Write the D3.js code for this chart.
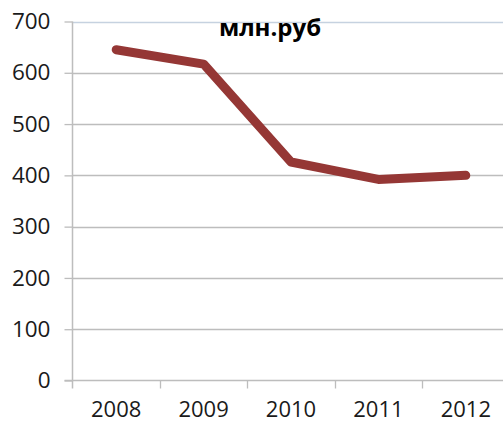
<!DOCTYPE html>
<html><head><meta charset="utf-8">
<script src="https://cdn.jsdelivr.net/npm/d3@7"></script>
<style>body{margin:0;background:#fff}svg{display:block}</style>
</head><body>
<script>
const categories = ["2008","2009","2010","2011","2012"];
const values = [645, 617, 426, 392, 400];
const yTicks = [0,100,200,300,400,500,600,700];
const title = "млн.руб";

const W = 503, H = 425;
const svg = d3.select("body").append("svg").attr("width", W).attr("height", H);
const mLeft = 72.5, mRight = 509.5, mTop = 21.5, mBottom = 380.5;
const x = d3.scaleBand().domain(categories).range([mLeft, mRight]);
const y = d3.scaleLinear().domain([0,700]).range([mBottom, mTop]);
const font = "'Open Sans', sans-serif";

// gridlines
svg.append("g").selectAll("line").data(yTicks.filter(d=>d>0)).join("line")
  .attr("x1", mLeft).attr("x2", W).attr("y1", d=>Math.round(y(d))+0.5).attr("y2", d=>Math.round(y(d))+0.5)
  .attr("stroke", d=> d===700 ? "#c6d2e0" : "#bdbdbd").attr("stroke-width", d=> d===700?1.5:1.3);

// y axis
const ya = svg.append("g").attr("transform", `translate(${mLeft},0)`)
  .call(d3.axisLeft(y).tickValues(yTicks).tickSize(8).tickPadding(14).tickSizeOuter(0));
ya.select(".domain").attr("stroke", "#bdbdbd").attr("stroke-width", 1.5).attr("d", `M0,${mTop}V${mBottom+8}`);
ya.selectAll(".tick line").attr("stroke", "#bdbdbd").attr("stroke-width", 1.3);
ya.selectAll("text").attr("font-family", font).attr("font-size", 22.5).attr("fill", "#1a1a1a");

// x axis
const xa = svg.append("g").attr("transform", `translate(0,${mBottom})`)
  .call(d3.axisBottom(x).tickSize(0).tickPadding(21));
xa.select(".domain").attr("stroke", "#bdbdbd").attr("stroke-width", 1.5).attr("d", `M${mLeft-8},0H${W}`);
xa.selectAll("text").attr("font-family", font).attr("font-size", 22).attr("fill", "#1a1a1a");
// category boundary ticks
svg.append("g").selectAll("line").data(categories.slice(1)).join("line")
  .attr("x1", d=>Math.round(x(d))+0.5).attr("x2", d=>Math.round(x(d))+0.5)
  .attr("y1", mBottom).attr("y2", mBottom+8).attr("stroke", "#bdbdbd").attr("stroke-width", 1.3);

// line
const line = d3.line().x((d,i)=>x(categories[i]) + x.bandwidth()/2).y(d=>y(d));
svg.append("path").datum(values).attr("d", line)
  .attr("fill", "none").attr("stroke", "#953735").attr("stroke-width", 9)
  .attr("stroke-linecap", "round").attr("stroke-linejoin", "round");

// title
svg.append("text").attr("x", 270).attr("y", 36).attr("text-anchor", "middle")
  .attr("font-family", font).attr("font-weight", "bold").attr("font-size", 24).attr("fill", "#000").text(title);
</script>
</body></html>
